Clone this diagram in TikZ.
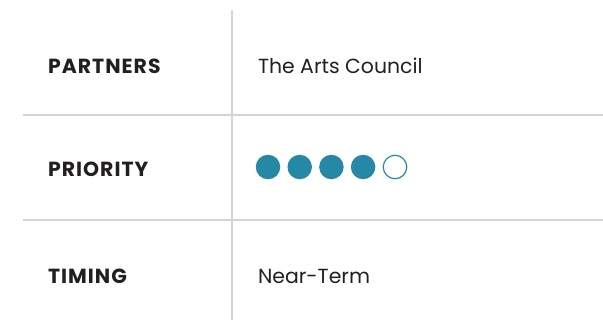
\documentclass[tikz,border=0pt]{standalone}
\usepackage{fontspec}
\setmainfont{Poppins}
\usepackage{xcolor}
\usepackage{tikz}
\usetikzlibrary{positioning}
\definecolor{inkgray}{HTML}{231F20}
\definecolor{rulegray}{HTML}{D4D4D4}
\definecolor{priteal}{HTML}{2589A6}

\begin{document}
\begin{tikzpicture}[x=1bp, y=-1bp,
    every node/.style={inner sep=0pt, outer sep=0pt},
    headlabel/.style={anchor=base west, font=\fontsize{20.5}{22}\selectfont\bfseries\addfontfeatures{LetterSpace=5}, text=inkgray},
    valtext/.style={anchor=base west, font=\fontsize{20.5}{22}\selectfont, text=inkgray},
    gridline/.style={rulegray, line width=1.5bp},
    dotfull/.style={circle, fill=priteal, minimum size=24.5bp},
    dotempty/.style={circle, draw=priteal, line width=1.2bp, fill=white, minimum size=23.5bp}]

\useasboundingbox (0,0) rectangle (603,320);

% Grid
\draw[gridline] (232,10) -- (232,320);
\draw[gridline] (23,115) -- (603,115);
\draw[gridline] (23,220) -- (603,220);

% Left column
\node[headlabel] (partners) at (48,73) {PARTNERS};
\node[headlabel] (priority) at (48,176) {PRIORITY};
\node[headlabel] (timing) at (48,283) {TIMING};

% Right column
\node[valtext] (council) at (258,73) {The Arts Council};
\node[valtext] (nearterm) at (258,283) {Near-Term};

% Priority dots
\foreach \i in {1,...,4}
    \node[dotfull] (dot\i) at ({268+31.7*(\i-1)},167) {};
\node[dotempty] (dot5) at (395,167) {};

\end{tikzpicture}
\end{document}
